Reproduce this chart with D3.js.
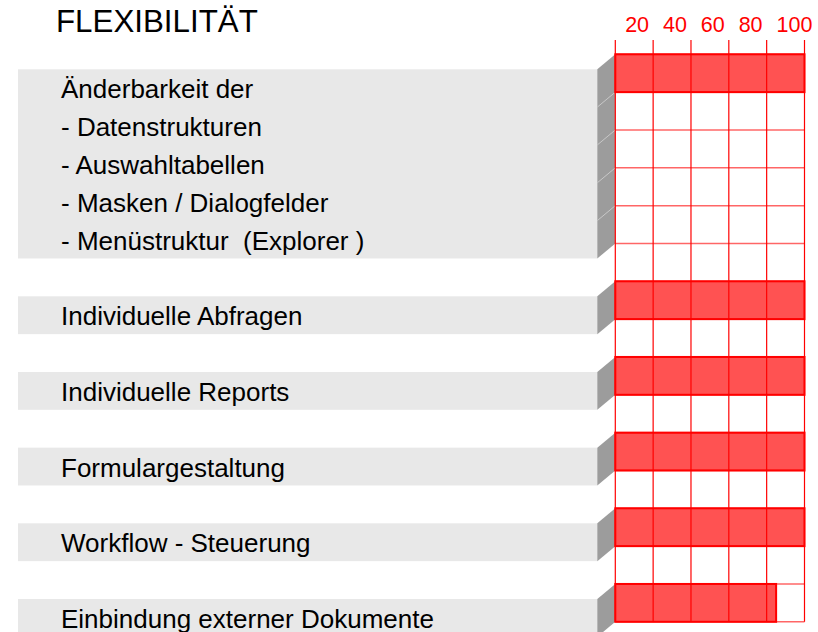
<!DOCTYPE html>
<html>
<head>
<meta charset="utf-8">
<script src="https://cdn.jsdelivr.net/npm/d3@7"></script>
<style>
  body { margin: 0; background: #fff; }
  svg { display: block; font-family: "Liberation Sans", Arial, sans-serif; }
</style>
</head>
<body>
<div id="chart"></div>
<script>
// chart data
const categories = ["Änderbarkeit der", "Individuelle Abfragen", "Individuelle Reports",
                    "Formulargestaltung", "Workflow - Steuerung", "Einbindung externer Dokumente"];
const subItems = ["- Datenstrukturen", "- Auswahltabellen", "- Masken / Dialogfelder", "- Menüstruktur  (Explorer )"];
const values = [100, 100, 100, 100, 100, 85];
const tickValues = [20, 40, 60, 80, 100];
const title = "FLEXIBILITÄT";

const width = 818, height = 632;
const svg = d3.select("#chart").append("svg")
    .attr("width", width)
    .attr("height", height);

// build row layout: each category gets its label rows, then one empty row
let groups = [];
let row = 0;
categories.forEach((c, i) => {
    let lines = i === 0 ? [c].concat(subItems) : [c];
    groups.push({ name: c, value: values[i], start: row, lines: lines });
    row += lines.length + 1;
});
const nRows = row - 1;

// scales
let x = d3.scaleLinear().domain([0, 100]).range([615.3, 804.5]);
let y = d3.scaleBand().domain(d3.range(nRows)).range([54.3, 621.8]).padding(0);
const h = y.bandwidth();
const depthX = 18, depthY = 15;

// title
svg.append("text")
    .attr("x", 56).attr("y", 32)
    .style("font-size", "31.3px")
    .style("fill", "#000")
    .text(title);

// label panels (front face + dark side)
groups.forEach(g => {
    let top = y(g.start);
    let n = g.lines.length;
    let x0 = x(0);
    svg.append("rect")
        .attr("x", 18).attr("y", top + depthY)
        .attr("width", x0 - depthX - 18).attr("height", n * h)
        .style("fill", "#e8e8e8");
    svg.append("polygon")
        .attr("points", [[x0 - depthX, top + depthY], [x0, top], [x0, top + n * h], [x0 - depthX, top + n * h + depthY]].join(" "))
        .style("fill", "#9c9c9c");
    // faint separators between stacked rows
    for (let k = 1; k < n; k++) {
        svg.append("line")
            .attr("x1", x0 - depthX).attr("y1", top + k * h + depthY)
            .attr("x2", x0).attr("y2", top + k * h)
            .style("stroke", "#c8c8c8").style("stroke-width", 1);
    }
    svg.selectAll(null)
        .data(g.lines).enter().append("text")
        .attr("x", 61)
        .attr("y", (d, i) => y(g.start + i) + 44)
        .style("font-size", "26px")
        .style("white-space", "pre")
        .style("fill", "#000")
        .text(d => d);
});

// horizontal grid lines
svg.selectAll(null)
    .data(d3.range(nRows + 1)).enter().append("line")
    .attr("x1", x(0)).attr("x2", x(100))
    .attr("y1", d => y(0) + d * h).attr("y2", d => y(0) + d * h)
    .style("stroke", "#ff0000").style("stroke-opacity", 0.6).style("stroke-width", 1.5);

// vertical grid lines, extended above the grid as ticks
svg.selectAll(null)
    .data([0].concat(tickValues)).enter().append("line")
    .attr("x1", d => x(d)).attr("x2", d => x(d))
    .attr("y1", 40).attr("y2", y(nRows - 1) + h)
    .style("stroke", "#ff0000").style("stroke-width", 1.2);

// bars
svg.selectAll(null)
    .data(groups).enter().append("rect")
    .attr("x", x(0))
    .attr("y", d => y(d.start))
    .attr("width", d => x(d.value) - x(0))
    .attr("height", h)
    .style("fill", "#ff0000").style("fill-opacity", 0.68)
    .style("stroke", "#ff0000").style("stroke-width", 2);

// tick labels
svg.selectAll(null)
    .data(tickValues).enter().append("text")
    .attr("x", d => x(d) - 28)
    .attr("y", 32)
    .style("font-size", "21.5px")
    .style("fill", "#ff0000")
    .text(d => d);
</script>
</body>
</html>
